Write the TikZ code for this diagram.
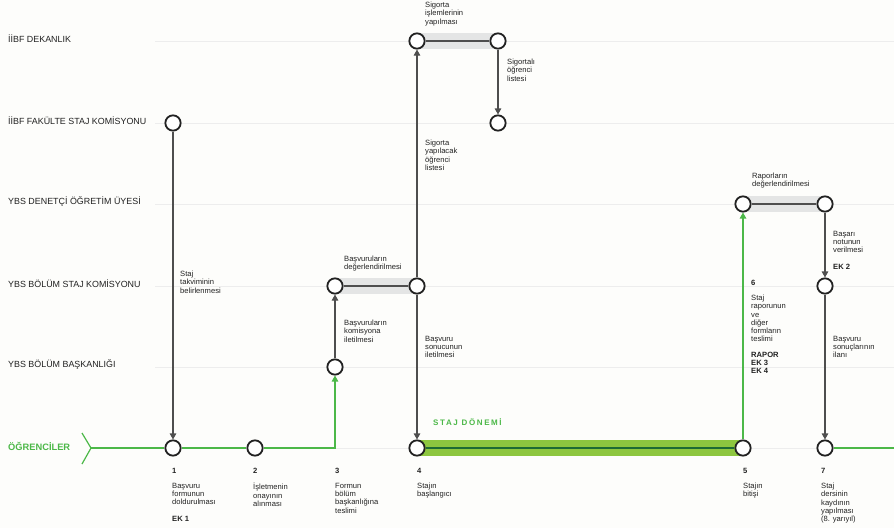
\documentclass[tikz,border=0pt]{standalone}
\usepackage{fontspec}
\setmainfont{Liberation Sans}
\usetikzlibrary{arrows.meta,backgrounds}
\definecolor{bg}{HTML}{FDFDFB}
\definecolor{lane}{HTML}{EDEDED}
\definecolor{band}{HTML}{E4E5E5}
\definecolor{gline}{HTML}{4CB848}
\definecolor{gbar}{HTML}{8DC63F}
\definecolor{gdark}{HTML}{1E6B34}
\definecolor{ink}{HTML}{222222}
\begin{document}
\begin{tikzpicture}[x=1pt,y=-1pt,
  dot/.style={circle,draw=ink,line width=1.8pt,fill=white,minimum size=15.3pt,inner sep=0pt},
  conn/.style={draw=ink!80,line width=1.1pt,-{Triangle[length=6pt,width=6.5pt]}},
  plain/.style={draw=ink!80,line width=1.1pt},
  gconn/.style={draw=gline,line width=1.2pt},
  garrow/.style={gconn,-{Triangle[length=6pt,width=6.5pt]}},
  lanelab/.style={anchor=west,inner sep=0pt,font=\fontsize{8.9}{10}\selectfont,text=ink},
  txt/.style={anchor=north west,inner sep=0pt,align=left,font=\fontsize{7.6}{8.2}\selectfont,text=ink},
  num/.style={anchor=west,inner sep=0pt,font=\fontsize{7.6}{8.2}\selectfont\bfseries,text=ink},
  bandst/.style={fill=band,draw=none}]
\useasboundingbox (0,0) rectangle (894,528);
\fill[bg] (0,0) rectangle (894,528);
% lanes
\foreach \yy in {41,123,204,286,367,448} \draw[lane,line width=0.6pt] (155,\yy) -- (894,\yy);
\node[lanelab] (l1) at (8,39) {İİBF DEKANLIK};
\node[lanelab] (l2) at (8,121) {İİBF FAKÜLTE STAJ KOMİSYONU};
\node[lanelab] (l3) at (8,202) {YBS DENETÇİ ÖĞRETİM ÜYESİ};
\node[lanelab] (l4) at (8,284) {YBS BÖLÜM STAJ KOMİSYONU};
\node[lanelab] (l5) at (8,365) {YBS BÖLÜM BAŞKANLIĞI};
\node[lanelab,text=gline,font=\fontsize{9.3}{11}\selectfont\bfseries] (l6) at (8,446) {ÖĞRENCİLER};
% bands
\fill[band] (335,278) rectangle (417,294);
\fill[band] (417,33) rectangle (498,49);
\fill[band] (743,196) rectangle (825,212);
\fill[gbar] (417,440) rectangle (743,456);
% nodes
\node[dot] (f1) at (173,123) {};
\node[dot] (s1) at (173,448) {};
\node[dot] (s2) at (255,448) {};
\node[dot] (b3) at (335,367) {};
\node[dot] (k3) at (335,286) {};
\node[dot] (k4) at (417,286) {};
\node[dot] (d4) at (417,41) {};
\node[dot] (d5) at (498,41) {};
\node[dot] (f5) at (498,123) {};
\node[dot] (s4) at (417,448) {};
\node[dot] (s5) at (743,448) {};
\node[dot] (y5) at (743,204) {};
\node[dot] (y7) at (825,204) {};
\node[dot] (k7) at (825,286) {};
\node[dot] (s7) at (825,448) {};
\coordinate (chev) at (91,448);
\coordinate (chevA) at (82,433);
\coordinate (chevB) at (82,464);
\coordinate (turn) at (335,448);
\coordinate (endR) at (894,448);
% green student line
\draw[gconn,line join=miter] (chevA) -- (chev) -- (chevB);
\draw[gconn] (chev) -- (s1);
\draw[gconn] (s1) -- (s2);
\draw[garrow] (s2) -- (turn) -- (b3);
\draw[draw=gdark,line width=1.3pt] (s4) -- (s5);
\draw[garrow] (s5) -- (y5);
\draw[gconn] (s7) -- (endR);
% black connectors
\draw[conn] (f1) -- (s1);
\draw[conn] (b3) -- (k3);
\draw[plain] (k3) -- (k4);
\draw[conn] (k4) -- (d4);
\draw[conn] (k4) -- (s4);
\draw[plain] (d4) -- (d5);
\draw[conn] (d5) -- (f5);
\draw[plain] (y5) -- (y7);
\draw[conn] (y7) -- (k7);
\draw[conn] (k7) -- (s7);
% labels on connectors
\node[txt] (t1) at (180,271) {Staj\\takviminin\\belirlenmesi};
\node[txt] (t2) at (344,256) {Başvuruların\\değerlendirilmesi};
\node[txt] (t3) at (344,320) {Başvuruların\\komisyona\\iletilmesi};
\node[txt] (t4) at (425,336) {Başvuru\\sonucunun\\iletilmesi};
\node[txt] (t5) at (425,140) {Sigorta\\yapılacak\\öğrenci\\listesi};
\node[txt] (t6) at (425,2) {Sigorta\\işlemlerinin\\yapılması};
\node[txt] (t7) at (507,59) {Sigortalı\\öğrenci\\listesi};
\node[txt] (t8) at (752,173) {Raporların\\değerlendirilmesi};
\node[txt] (t9) at (833,231) {Başarı\\notunun\\verilmesi};
\node[num] (t9b) at (833,267) {EK 2};
\node[num] (t10n) at (751,283) {6};
\node[txt] (t10) at (751,295) {Staj\\raporunun\\ve\\diğer\\formların\\teslimi};
\node[txt,font=\fontsize{7.6}{8.2}\selectfont\bfseries] (t10b) at (751,352) {RAPOR\\EK 3\\EK 4};
\node[txt] (t11) at (833,336) {Başvuru\\sonuçlarının\\ilanı};
\node[anchor=west,inner sep=0pt,text=gline,font=\fontsize{8}{9}\selectfont\bfseries\addfontfeature{LetterSpace=20}] (sd) at (433,422) {STAJ DÖNEMİ};
% bottom labels
\node[num] (n1) at (172,471) {1};
\node[txt] (d1) at (172,483) {Başvuru\\formunun\\doldurulması};
\node[num] (e1) at (172,519) {EK 1};
\node[num] (n2) at (253,471) {2};
\node[txt] (d2) at (253,483) {İşletmenin\\onayının\\alınması};
\node[num] (n3) at (335,471) {3};
\node[txt] (d3) at (335,483) {Formun\\bölüm\\başkanlığına\\teslimi};
\node[num] (n4) at (417,471) {4};
\node[txt] (d4t) at (417,483) {Stajın\\başlangıcı};
\node[num] (n5) at (743,471) {5};
\node[txt] (d5t) at (743,483) {Stajın\\bitişi};
\node[num] (n7) at (821,471) {7};
\node[txt] (d7) at (821,483) {Staj\\dersinin\\kaydının\\yapılması\\(8. yarıyıl)};
\end{tikzpicture}
\end{document}
